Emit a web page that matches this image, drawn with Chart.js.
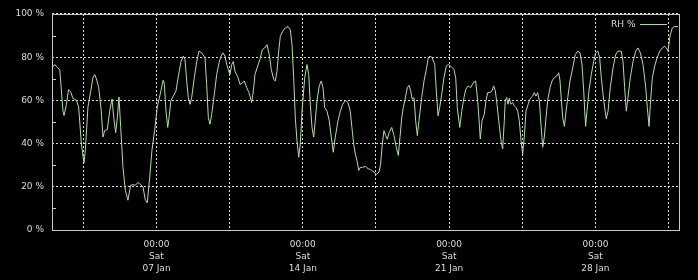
<!DOCTYPE html>
<html>
  <head>
    <meta charset="utf-8" />
    <title>RH %</title>
    <script src="https://cdn.jsdelivr.net/npm/chart.js@4"></script>
    <style>
      body { margin: 0; background: #000; }
      canvas { display: block; background: #000; }
    </style>
  </head>
  <body>
    <canvas id="rhCanvas" width="698" height="280"></canvas>
    <script>
      // hours since Mon 02 Jan 00:00
      const hours = [
        0, 3, 7, 9, 12.6, 13.8, 16.5, 19, 21.4, 24, 28, 30.6, 33.7, 36.7, 38.3, 41.3, 44.4, 47, 49, 51,
        53.6, 56.6, 58.5, 60.5, 63.5, 66.2, 68.9, 71.2, 73.1, 75, 76.9, 78.9, 81.5, 84.2, 87.2, 90.3, 93, 95.6, 98.7, 101.8,
        104.5, 107.1, 109.4, 112.2, 114.8, 117.8, 120.9,
        122.9, 125.1, 127.5, 128.9, 130.9, 132.9, 134.4, 136.6, 139.3, 142.4, 145, 148.1, 150.8, 152.7, 154.7, 156.5, 158.5, 160.4, 163.4, 166.2,
        168.8, 171.9, 175.7, 177.6, 179.5, 181.4, 183.4, 186.4, 189.1, 191.8, 194.1, 196.4, 198.7, 200.6, 202.4, 204.4, 206.4, 208.2, 210.1, 213.2,
        215.9, 218.5, 220.8, 223.6, 226.2, 229.3, 231.2, 233.1, 236.2, 238.8, 241.5,
        244.2, 246.9, 249.5, 251.8, 254.6, 256.4, 258.4, 260.3, 262.2, 264.9, 267.9, 271, 273.6, 275.6, 277.5, 279.4, 281.3, 283.3, 285.1, 287.1,
        290.2, 292.8, 294.8, 296.6, 298.6, 300.5, 302.3, 304.3, 306.9, 309.2, 311.2, 313.1, 315.8, 318.4, 320.7, 323, 325.3, 328.4, 331.1, 333.8,
        336.8, 339.9, 342.5, 344.4, 346.4, 348.3, 350.2, 352.2, 354, 356.8, 359.8, 362.9, 365.5,
        367.1, 369.8, 372.4, 375.5, 377.4, 379.3, 381.2, 383.2, 385, 387, 390.1, 392.7, 395.4, 397.7, 399.6, 401.6, 403.4, 405.4, 408, 410,
        411.9, 413.7, 415.7, 417.6, 419.5, 421.4, 424.5, 427.2, 429.8, 432.1, 434.1, 436.7, 439.5, 441.3, 443.3, 445.2, 447.5, 450.1, 452.8, 455.1,
        457.8, 461.6, 463.6, 465.4, 468.2, 470.5, 473.1, 475.1, 478, 480.8, 483.4, 486.5,
        488.8, 490.7, 491.8, 493.8, 496.4, 498.4, 500.3, 503, 505.3, 507.2, 509.1, 511, 513, 515.6, 517.5, 519.4, 520.5, 522.1, 523.6, 525.1,
        527.1, 529, 530.9, 532.8, 534.8, 536.6, 538.6, 540.5, 542.3, 544.3, 546.2, 548.1, 550, 552, 553.8, 555.8, 557.7, 559.6, 561.5, 563.5,
        565.3, 567.3, 569.2, 571.9, 574.2, 576.8, 579.6, 581.9, 583.4, 584.9, 586.5, 588.4, 590.3, 592.3, 594.8, 597.9, 600.9, 603.7, 606.3, 608.6,
        610.6,
        611.7, 612.8, 614.3, 616.6, 619.3, 622, 624.3, 627, 628.9, 630.8, 633.5, 636.5, 638.5, 641.1, 644.2, 647.3, 649.9, 653.7, 655.7, 657.6,
        659.5, 661.4, 664.1, 667.2, 670.3, 672.9, 675.6, 678.7, 681.8, 683.6, 685.6, 687.1, 689.4, 692.1, 694.8, 697.9, 700.8, 703.6, 705.5, 707.4,
        708.6, 710, 712.3, 715.1, 718.9,
      ];
      const rh = [
        75, 76.6, 75, 74, 55, 53, 58, 65, 64, 61, 60, 57, 40, 31, 37, 57, 64, 70.5, 72, 70,
        66, 55, 43, 46, 46.5, 55, 60.7, 51, 45, 52, 61.6, 47.5, 29, 18.4, 13.8, 20.7, 21, 20.7, 22, 21,
        20, 14, 12.6, 24.5, 37, 46, 57,
        60.5, 64.4, 69.3, 68, 55, 47.5, 52, 60, 62, 64.4, 71, 78, 80.5, 79, 69, 61.3, 58.2, 61.3, 70.5, 78,
        82.8, 82, 79.7, 67.4, 52, 49, 53.6, 62.8, 72, 77.4, 80.5, 82, 80.5, 76.6, 74.3, 72, 76.6, 78, 73.5, 71,
        67.4, 68, 69, 65.9, 63.6, 59, 64.4, 72, 75.9, 79, 83.5,
        84.3, 85.8, 81.2, 74.3, 69.7, 69, 73.5, 82.8, 89.7, 92, 93.5, 94.2, 92.8, 85.8, 70.5, 52, 41.4, 33.7, 39.8, 55,
        70.5, 76.6, 72, 58.2, 47.5, 43, 50.6, 60, 66.7, 69, 65.9, 56.7, 55, 50.6, 43, 36, 43, 50.6, 55, 58.2,
        60, 59, 55, 47.5, 39.8, 35.2, 32.2, 27.6, 29, 29, 29.5, 28.4, 28,
        27.6, 26.8, 25.7, 26.8, 30.6, 39.8, 46, 43.7, 42, 45, 47.5, 43.7, 38.3, 34.5, 43, 52, 56.7, 60.5, 65.9, 67,
        64.4, 60.5, 61.3, 50.6, 43.7, 50.6, 61.3, 69, 74.3, 79.7, 80.5, 79.7, 76.6, 64.4, 52.9, 56.7, 62.8, 70.5, 75.9, 76.6,
        75.9, 74.3, 70.5, 56.7, 47.5, 55, 61.3, 65.1, 66.7, 65.9, 68, 69,
        60, 49, 42.1, 50.6, 53.6, 60, 63.6, 63.6, 64.4, 66.7, 64.4, 58.2, 50.6, 41.4, 37.5, 50.6, 60, 61.3, 58.2, 61,
        58.2, 59, 57.5, 56.7, 55, 50.6, 41.4, 35.2, 43, 55, 57.5, 60, 61.3, 62, 63.6, 62, 63.6, 60, 49, 38.3,
        43, 52, 60, 65.9, 69, 70.5, 71.3, 72.8, 69, 60, 52, 48, 55, 61.3, 69, 75, 81.2, 82.8, 82, 76.6,
        64.4,
        55, 48, 55, 64.4, 72, 78, 82, 82.8, 79.7, 70.5, 60, 51.5, 55, 65.9, 75, 81.2, 82.8, 82.8, 78, 65.9,
        55, 61.3, 70.5, 78, 82.8, 84.3, 82, 76.6, 65.9, 56.7, 48, 58.2, 70.5, 75.9, 79.7, 82.8, 84.3, 85, 84.3, 82.8,
        86.6, 90.4, 93.5, 94.2, 94.2,
      ];

      const gridHours = [36, 120, 204, 288, 372, 456, 540, 624, 708];
      const labelHours = [120, 288, 456, 624];
      const xTickLabels = [
        ["00:00", "Sat", "07 Jan"],
        ["00:00", "Sat", "14 Jan"],
        ["00:00", "Sat", "21 Jan"],
        ["00:00", "Sat", "28 Jan"],
      ];
      const yMinorTicks = [10, 30, 50, 70, 90];

      const textColor = "#dcdcdc";
      const gridColor = "rgba(255,255,255,0.85)";
      const font = { family: "DejaVu Sans", size: 9, lineHeight: 1.333 };

      // frame round the plot area plus small inside ticks on the y axis
      const frame = {
        id: "frame",
        afterDatasetsDraw(chart) {
          const { ctx, chartArea: a } = chart;
          const y = chart.scales.y;
          ctx.save();
          ctx.strokeStyle = "#c8c8c8";
          ctx.lineWidth = 1;
          ctx.strokeRect(Math.round(a.left) + 0.5, Math.round(a.top) + 0.5,
            Math.round(a.right - a.left), Math.round(a.bottom - a.top));
          ctx.beginPath();
          yMinorTicks.forEach((v) => {
            const py = Math.round(y.getPixelForValue(v)) + 0.5;
            ctx.moveTo(a.left, py);
            ctx.lineTo(a.left + 4, py);
          });
          ctx.stroke();
          ctx.restore();
        },
      };

      // move the legend into the top right corner of the plot
      const legendCorner = {
        id: "legendCorner",
        afterLayout(chart) {
          const lg = chart.legend;
          const a = chart.chartArea;
          lg.left = a.right - lg.width - 8;
          lg.right = lg.left + lg.width;
          lg.top = a.top + 2;
          lg.bottom = lg.top + lg.height;
        },
      };

      const ctx = document.getElementById("rhCanvas").getContext("2d");
      const rhChart = new Chart(ctx, {
        type: "line",
        data: {
          datasets: [
            {
              label: "RH %",
              data: hours.map((h, i) => ({ x: h, y: rh[i] })),
              borderColor: "#b0dea4",
              backgroundColor: "#b0dea4",
              borderWidth: 1,
              pointRadius: 0,
              tension: 0,
            },
          ],
        },
        options: {
          responsive: false,
          animation: false,
          layout: { padding: { top: 12, right: 19, left: 0, bottom: 0 } },
          plugins: {
            tooltip: { enabled: false },
            legend: {
              position: "chartArea",
              align: "start",
              rtl: true,
              labels: {
                color: textColor,
                font: font,
                usePointStyle: true,
                pointStyle: "line",
                pointStyleWidth: 27,
                padding: 4,
                boxPadding: 4,
              },
            },
          },
          scales: {
            x: {
              type: "linear",
              min: 0,
              max: 720,
              afterBuildTicks: (scale) => {
                scale.ticks = gridHours.map((v) => ({ value: v }));
              },
              afterFit: (scale) => {
                scale.height = 50;
              },
              ticks: {
                autoSkip: false,
                maxRotation: 0,
                color: textColor,
                font: font,
                padding: 9,
                callback: (value) => {
                  const i = labelHours.indexOf(value);
                  return i >= 0 ? xTickLabels[i] : "";
                },
              },
              grid: { color: gridColor, drawTicks: false },
              border: { display: false, dash: [2, 2] },
            },
            y: {
              min: 0,
              max: 100,
              afterFit: (scale) => {
                scale.width = 52;
              },
              ticks: {
                stepSize: 20,
                color: textColor,
                font: font,
                padding: 8,
                callback: (value) => value + " %",
              },
              grid: { color: gridColor, drawTicks: false },
              border: { display: false, dash: [2, 2] },
            },
          },
        },
        plugins: [frame, legendCorner],
      });
    </script>
  </body>
</html>
